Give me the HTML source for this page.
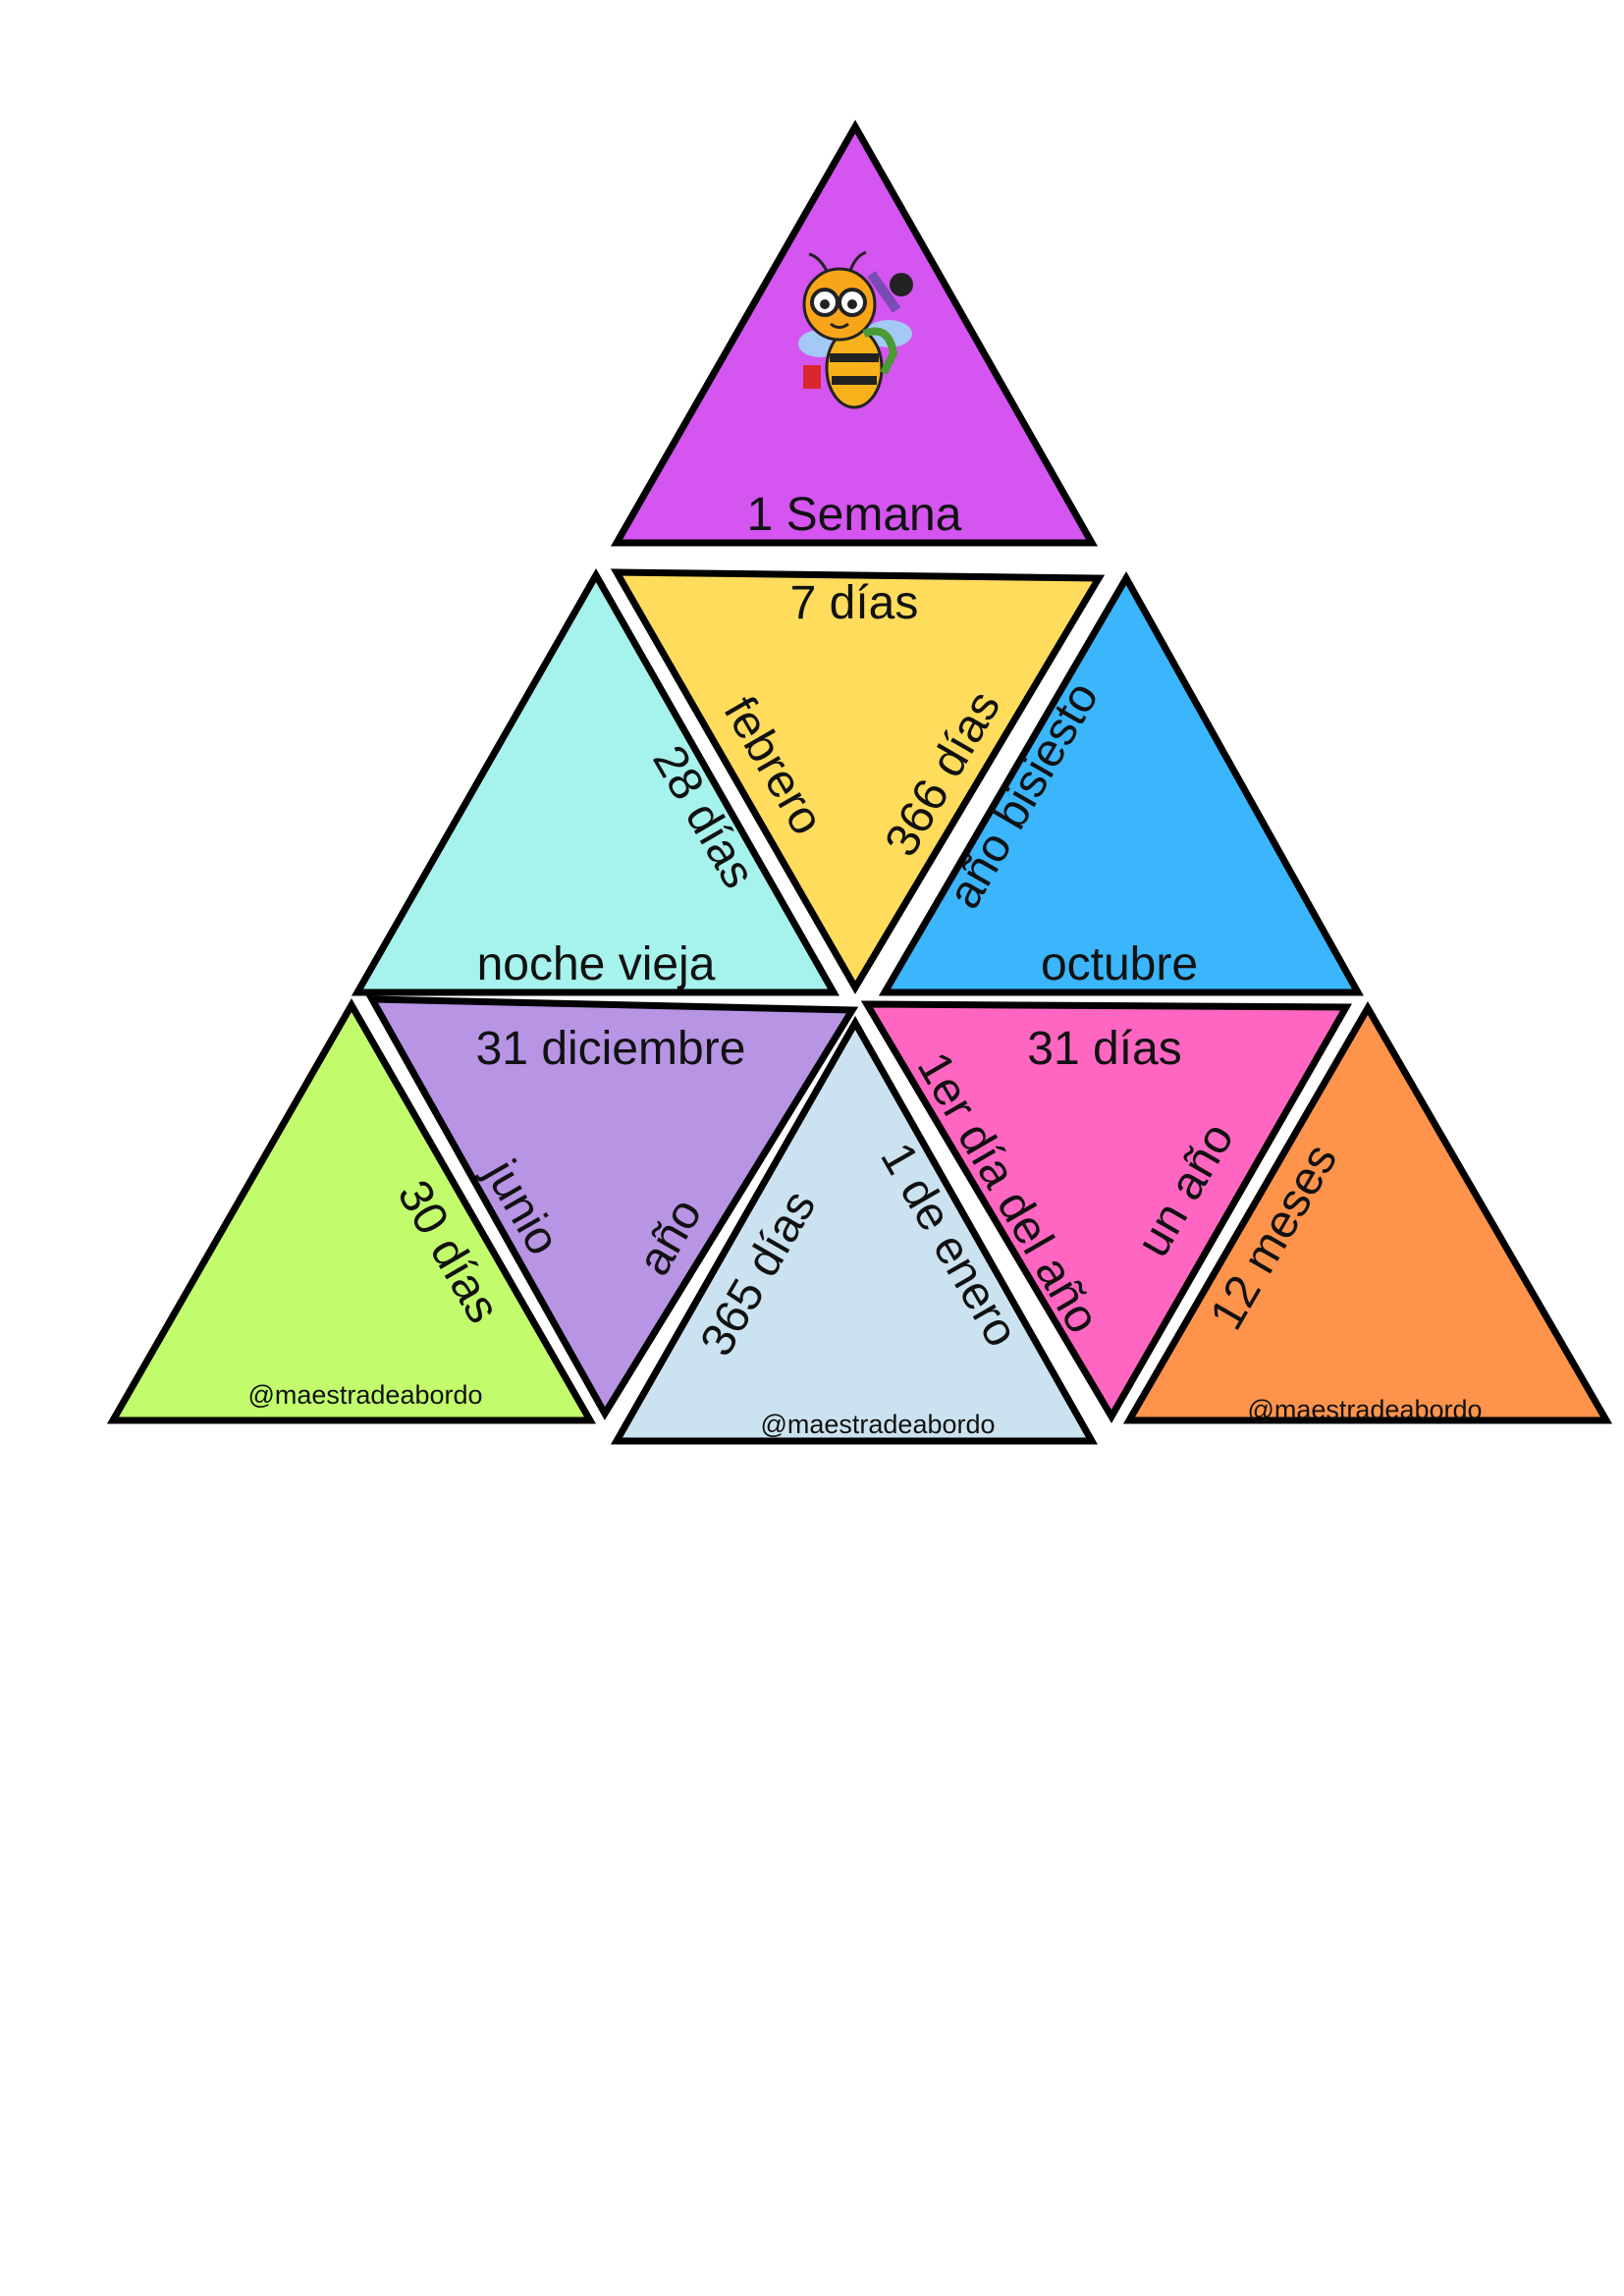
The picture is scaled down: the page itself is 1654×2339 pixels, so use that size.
<!DOCTYPE html>
<html><head><meta charset="utf-8"><style>
html,body{margin:0;padding:0;background:#fff;}
svg{display:block;}
text{font-family:"Liberation Sans",sans-serif;fill:#111;}
.l{font-size:48px;}
.s{font-size:27px;}
</style></head><body>
<svg width="1654" height="2339" viewBox="0 0 1654 2339" xmlns="http://www.w3.org/2000/svg">
<g stroke="#000" stroke-width="7" stroke-linejoin="miter">
<polygon points="871,129 628,553 1112,553" fill="#d455f0"/>
<polygon points="628,583 1119,589 871,1006" fill="#ffdc5c"/>
<polygon points="607,586 364,1011 849,1011" fill="#a6f2ec"/>
<polygon points="1147,589 901,1011 1383,1011" fill="#3bb5fc"/>
<polygon points="358,1024 115,1447 601,1447" fill="#c2fc6c"/>
<polygon points="379,1018 868,1029 616,1440" fill="#b794e4"/>
<polygon points="871,1042 628,1468 1112,1468" fill="#cbe3f0"/>
<polygon points="883,1023 1371,1026 1132,1443" fill="#fe66c1"/>
<polygon points="1393,1027 1150,1447 1636,1447" fill="#fe944c"/>
</g>
<g>
<ellipse cx="835" cy="350" rx="22" ry="14" fill="#9fd6f5" opacity="0.9"/>
<ellipse cx="905" cy="340" rx="24" ry="14" fill="#9fd6f5" opacity="0.9"/>
<ellipse cx="870" cy="375" rx="28" ry="40" fill="#f7b21b" stroke="#222" stroke-width="3"/>
<rect x="845" y="360" width="50" height="9" fill="#222"/>
<rect x="847" y="383" width="46" height="9" fill="#222"/>
<circle cx="855" cy="310" r="36" fill="#f9a51a" stroke="#222" stroke-width="3"/>
<circle cx="840" cy="308" r="13" fill="#fff" stroke="#222" stroke-width="4"/>
<circle cx="868" cy="308" r="13" fill="#fff" stroke="#222" stroke-width="4"/>
<circle cx="840" cy="310" r="5" fill="#222"/>
<circle cx="868" cy="310" r="5" fill="#222"/>
<path d="M846 330 q9 7 18 0" stroke="#222" stroke-width="3" fill="none"/>
<path d="M842 276 q-8 -15 -18 -17 M866 276 q5 -15 16 -19" stroke="#222" stroke-width="3" fill="none"/>
<rect x="818" y="372" width="18" height="24" fill="#d9262c"/>
<rect x="895" y="275" width="10" height="45" fill="#7b4bb5" transform="rotate(-35 900 297)"/>
<circle cx="918" cy="290" r="12" fill="#222"/>
<path d="M880 340 q25 -10 30 20 l-10 20" stroke="#4a9a35" stroke-width="8" fill="none"/>
</g>
<g class="l">
<text x="870" y="540" text-anchor="middle">1 Semana</text>
<text x="870" y="630" text-anchor="middle">7 días</text>
<text x="607" y="998" text-anchor="middle">noche vieja</text>
<text x="1140" y="998" text-anchor="middle">octubre</text>
<text x="622" y="1084" text-anchor="middle">31 diciembre</text>
<text x="1125" y="1084" text-anchor="middle">31 días</text>
<text text-anchor="middle" transform="translate(788,780) rotate(60)" dy="16">febrero</text>
<text text-anchor="middle" transform="translate(960,788) rotate(-60)" dy="16">366 días</text>
<text text-anchor="middle" transform="translate(717,832) rotate(60)" dy="16">28 días</text>
<text text-anchor="middle" transform="translate(1042,810) rotate(-60)" dy="16">año bisiesto</text>
<text text-anchor="middle" transform="translate(532,1230) rotate(60)" dy="16">junio</text>
<text text-anchor="middle" transform="translate(682,1260) rotate(-60)" dy="16">año</text>
<text text-anchor="middle" transform="translate(457,1275) rotate(60)" dy="16">30 días</text>
<text text-anchor="middle" transform="translate(772,1297) rotate(-60)" dy="16">365 días</text>
<text text-anchor="middle" transform="translate(967,1268) rotate(60)" dy="16">1 de enero</text>
<text text-anchor="middle" transform="translate(1027,1215) rotate(60)" dy="16">1er día del año</text>
<text text-anchor="middle" transform="translate(1207,1212) rotate(-60)" dy="16">un año</text>
<text text-anchor="middle" transform="translate(1297,1260) rotate(-60)" dy="16">12 meses</text>
</g>
<g class="s">
<text x="372" y="1430" text-anchor="middle">@maestradeabordo</text>
<text x="894" y="1460" text-anchor="middle">@maestradeabordo</text>
<text x="1390" y="1445" text-anchor="middle">@maestradeabordo</text>
</g>
</svg>
</body></html>
